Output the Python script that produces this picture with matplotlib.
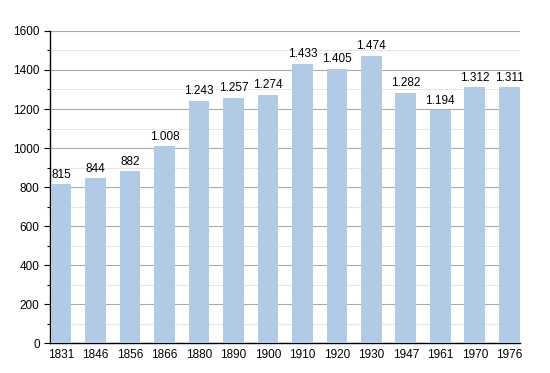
import matplotlib.pyplot as plt
from matplotlib.ticker import MultipleLocator

plt.rcParams['font.family'] = ['Liberation Sans', 'DejaVu Sans']

years = ['1831', '1846', '1856', '1866', '1880', '1890', '1900',
         '1910', '1920', '1930', '1947', '1961', '1970', '1976']
population = [815, 844, 882, 1008, 1243, 1257, 1274,
              1433, 1405, 1474, 1282, 1194, 1312, 1311]
labels = ['815', '844', '882', '1.008', '1.243', '1.257', '1.274',
          '1.433', '1.405', '1.474', '1.282', '1.194', '1.312', '1.311']

fig = plt.figure(figsize=(5.5, 3.73), dpi=100)
ax = fig.add_axes([0.091, 0.080, 0.855, 0.837])

x = range(len(years))
ax.bar(x, population, width=0.6, color='#b1cbe6', zorder=3)
for i, v in enumerate(population):
    ax.text(i, v + 18, labels[i], ha='center', va='bottom', fontsize=8.5, zorder=4)

ax.set_xlim(-0.32, 13.32)
ax.set_ylim(0, 1600)
ax.set_xticks(list(x))
ax.set_xticklabels(years, fontsize=8.5)
ax.yaxis.set_major_locator(MultipleLocator(200))
ax.yaxis.set_minor_locator(MultipleLocator(100))
ax.tick_params(axis='y', labelsize=8.5, length=4, width=0.8, direction='out')
ax.tick_params(axis='y', which='minor', length=2.5, width=0.8)
ax.tick_params(axis='x', length=0, pad=4)
ax.grid(axis='y', which='major', color='#aaaaaa', linewidth=0.8, zorder=0)
ax.grid(axis='y', which='minor', color='#e6e6e6', linewidth=0.8, zorder=0)

for s in ['top', 'right']:
    ax.spines[s].set_visible(False)
ax.spines['left'].set_linewidth(1)
ax.spines['bottom'].set_linewidth(1)

fig.savefig('out.png', dpi=100)
